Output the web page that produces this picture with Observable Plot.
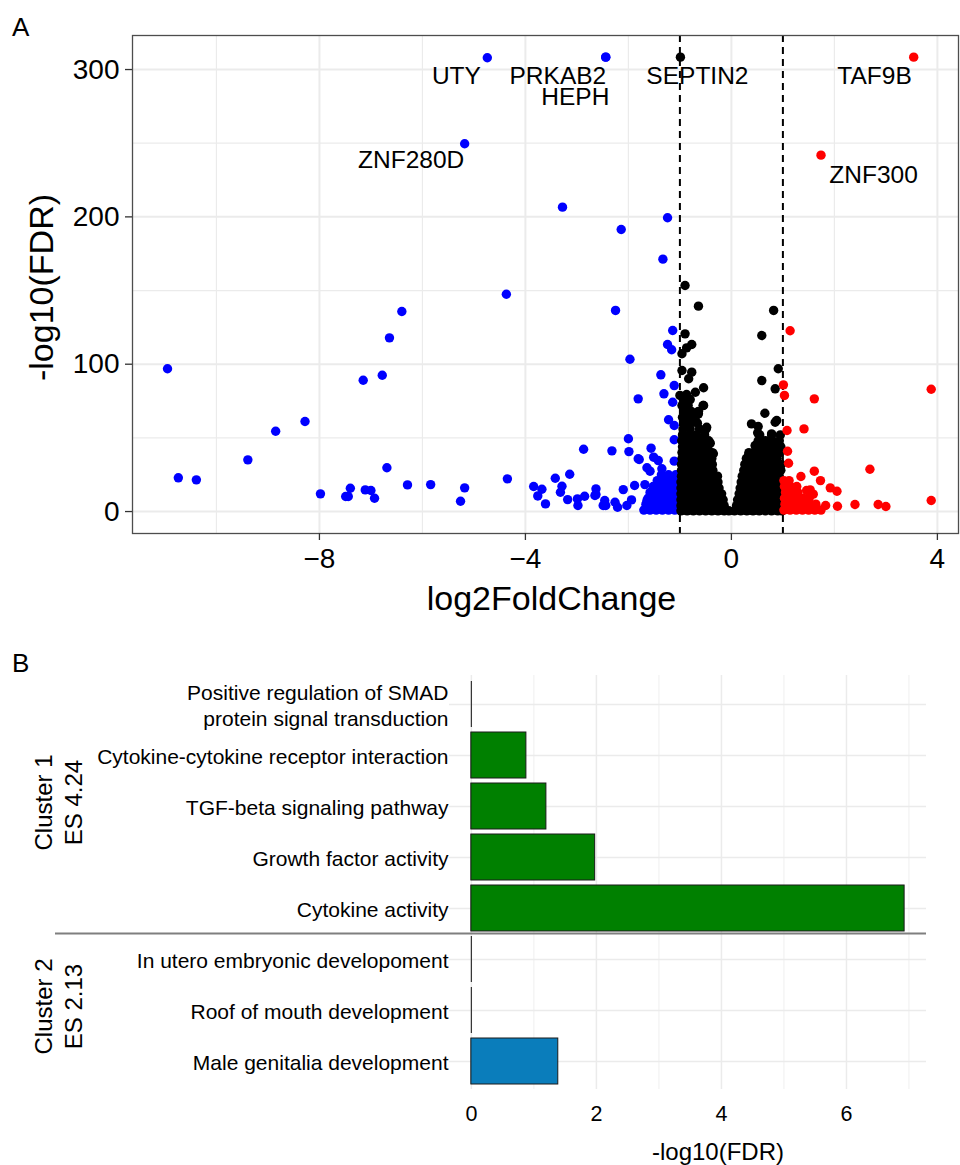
<!DOCTYPE html>
<html><head><meta charset="utf-8">
<script src="https://cdn.jsdelivr.net/npm/d3@7"></script>
<script src="https://cdn.jsdelivr.net/npm/@observablehq/plot@0.6"></script>
<style>
body{margin:0;background:#fff;font-family:"Liberation Sans",Arial,sans-serif;}
#wrap{position:relative;width:960px;height:1165px;overflow:hidden;background:#fff;}
.plab{position:absolute;font-size:26px;line-height:1;color:#000;}
#a{position:absolute;left:0;top:0}
#b{position:absolute;left:0;top:640px}
</style></head><body>
<div id="wrap">
<div id="a"></div><div id="b"></div>
<div class="plab" style="left:12px;top:14px">A</div>
<div class="plab" style="left:12px;top:650px">B</div>
</div>
<script>
// ---------- Panel A data ----------
const xMajor = [-8, -4, 0, 4];
const xMinor = [-10, -6, -2, 2];
const yMajor = [0, 100, 200, 300];
const yMinor = [50, 150, 250];
const cutoffs = [-1, 1];

// down-regulated (blue), scattered points [log2FC, -log10 FDR]
const downPoints = [
  [-4.74,308.0],[-2.44,308.4],[-2.44,308.4],[-5.18,249.6],[-3.28,206.6],[-1.24,199.4],
  [-2.14,191.4],[-1.33,171.3],[-4.37,147.5],[-2.25,136.5],[-6.40,135.8],[-1.14,122.9],
  [-6.64,117.9],[-1.24,113.4],[-1.16,109.8],[-1.97,103.4],[-10.95,96.9],[-1.37,92.8],
  [-6.78,92.5],[-7.15,89.1],[-1.11,85.5],[-1.31,79.9],[-1.81,76.5],[-1.14,74.2],
  [-1.22,62.3],[-8.28,61.1],[-1.11,58.4],[-8.85,54.5],[-2.0,49.4],[-1.11,48.7],
  [-1.56,43.0],[-2.87,42.3],[-2.32,41.2],[-1.99,40.7],[-9.39,35.1],[-1.79,35.3],
  [-1.51,36.9],[-1.42,34.6],[-1.11,34.2],[-6.69,29.7],[-1.64,29.7],[-1.58,27.4],
  [-1.35,29.0],[-3.14,25.3],[-10.74,22.9],[-3.42,22.6],[-4.35,22.2],[-10.39,21.5],
  [-6.29,18.1],[-5.84,18.3],[-1.88,17.7],[-3.84,17.0],[-3.29,17.2],[-5.18,16.1],
  [-7.40,15.8],[-2.63,15.4],[-3.68,15.1],[-2.10,14.9],[-7.11,14.7],[-7.0,14.3],
  [-3.32,13.1],[-7.98,12.0],[-2.65,10.9],[-3.76,10.6],[-2.85,10.4],[-7.49,10.2],
  [-7.44,10.2],[-6.93,9.0],[-2.99,8.6],[-3.18,8.1],[-1.94,7.9],[-2.46,7.5],
  [-5.26,7.0],[-2.26,6.3],[-3.61,5.2],[-2.98,4.1],[-2.44,4.1],[-2.03,4.1],
  [-2.21,2.9],[-1.68,18.3],[-1.64,7.5],[-1.81,35.8],[-2.63,11.5],[-2.49,4.1]
];
// dense blue cluster, rows: [-log10 FDR, log2FC values]
const downDense = [
  [1, [-1.70,-1.58,-1.46,-1.34,-1.22,-1.10]],
  [5, [-1.66,-1.54,-1.42,-1.30,-1.18,-1.06]],
  [9, [-1.62,-1.50,-1.38,-1.26,-1.14,-1.04]],
  [13,[-1.58,-1.46,-1.34,-1.22,-1.10]],
  [17,[-1.52,-1.40,-1.28,-1.16,-1.05]],
  [21,[-1.44,-1.30,-1.18,-1.06]],
  [25,[-1.36,-1.22,-1.08]]
];

// up-regulated (red)
const upPoints = [
  [3.54,308.4],[1.74,241.9],[1.14,122.7],[1.01,86.0],[1.03,78.8],[1.61,76.5],
  [3.88,83.0],[1.08,55.0],[1.41,56.1],[1.09,40.9],[1.11,32.8],[2.69,28.7],
  [1.61,27.4],[1.35,23.8],[1.73,21.0],[1.92,16.1],[2.05,13.8],[1.53,14.7],
  [1.59,11.8],[1.46,14.3],[2.06,3.6],[2.40,4.8],[2.85,4.8],[3.0,3.4],
  [3.88,7.5],[1.83,4.1]
];
const upDense = [
  [1, [1.02,1.14,1.26,1.38,1.50,1.62,1.74]],
  [5, [1.04,1.16,1.28,1.40,1.52,1.64]],
  [9, [1.03,1.15,1.27,1.39,1.51]],
  [13,[1.05,1.17,1.29]],
  [17,[1.03,1.15,1.27]],
  [21,[1.02,1.12]]
];

// not significant (black)
const nsPoints = [
  [-0.99,308.4],[-0.90,153.4],[-0.64,139.4],[-0.90,120.6],[-0.77,113.4],[-0.87,111.1],
  [-0.96,107.1],[-0.96,95.7],[-0.77,94.6],[-0.83,90.1],[-0.54,84.0],[-0.70,81.0],
  [-0.87,79.4],[-1.0,78.8],[-0.54,72.0],[-0.64,66.3],[-0.77,61.8],[-0.90,59.5],
  [-0.48,57.2],[-0.96,48.2],[-0.74,47.0],[-0.54,49.4],[-0.41,46.4],[-0.35,39.2],
  [0.82,136.5],[0.59,119.5],[0.91,96.9],[0.59,88.9],[0.85,83.3],[0.65,66.7],
  [0.88,61.8],[0.85,60.6],[0.39,59.5],[0.52,57.7],[0.78,52.7],[0.51,53.4],
  [0.46,44.8],[0.59,43.7],[0.75,44.1],[0.33,38.0]
];
const nsDense = [
  [0.5,[-0.98,-0.86,-0.74,-0.62,-0.50,-0.38,-0.26,-0.14,-0.05,0.06,0.18,0.30,0.42,0.54,0.66,0.78,0.90,0.98]],
  [4, [-0.98,-0.86,-0.74,-0.62,-0.50,-0.38,-0.26,-0.14,0.10,0.22,0.34,0.46,0.58,0.70,0.82,0.94]],
  [8, [-0.98,-0.86,-0.74,-0.62,-0.50,-0.38,-0.26,-0.16,0.12,0.24,0.36,0.48,0.60,0.72,0.84,0.96]],
  [12,[-0.98,-0.86,-0.74,-0.62,-0.50,-0.38,-0.27,-0.19,0.15,0.27,0.39,0.51,0.63,0.75,0.87,0.97]],
  [16,[-0.98,-0.86,-0.74,-0.62,-0.50,-0.38,-0.24,0.17,0.29,0.41,0.53,0.65,0.77,0.89,0.97]],
  [20,[-0.98,-0.86,-0.74,-0.62,-0.50,-0.38,-0.26,0.19,0.31,0.43,0.55,0.67,0.79,0.91]],
  [24,[-0.97,-0.85,-0.73,-0.61,-0.49,-0.37,-0.27,0.21,0.33,0.45,0.57,0.69,0.81,0.93]],
  [28,[-0.97,-0.85,-0.73,-0.61,-0.49,-0.36,0.24,0.36,0.48,0.60,0.72,0.84,0.96]],
  [32,[-0.97,-0.85,-0.73,-0.61,-0.49,-0.37,0.26,0.38,0.50,0.62,0.74,0.86,0.97]],
  [36,[-0.96,-0.84,-0.72,-0.60,-0.48,-0.38,0.29,0.41,0.53,0.65,0.77,0.89]],
  [40,[-0.96,-0.84,-0.72,-0.60,-0.48,-0.37,0.34,0.46,0.58,0.70,0.82,0.94]],
  [44,[-0.95,-0.83,-0.71,-0.59,-0.46,0.47,0.60,0.72,0.85,0.96]],
  [48,[-0.96,-0.84,-0.72,-0.58,-0.44,0.52,0.66,0.80,0.93]],
  [52,[-0.95,-0.82,-0.68,-0.52,0.55,0.78,0.95]],
  [56,[-0.94,-0.80,-0.62,-0.49]],
  [60,[-0.92,-0.80,-0.66]],
  [64,[-0.95,-0.84,-0.70]],
  [68,[-0.92,-0.78,-0.64]],
  [72,[-0.96,-0.84,-0.55]],
  [76,[-0.93,-0.80]]
];

const geneNames = ["UTY","PRKAB2","HEPH","SEPTIN2","TAF9B","ZNF280D","ZNF300"];
const geneLabelX = [-5.34,-3.37,-3.03,-0.66,2.78,-6.22,2.76];
const geneLabelY = [295.3,295.3,281.0,295.3,295.3,238.2,228.0];

// ---------- Panel B data ----------
const terms = [
  "Positive regulation of SMAD\nprotein signal transduction",
  "Cytokine-cytokine receptor interaction",
  "TGF-beta signaling pathway",
  "Growth factor activity",
  "Cytokine activity",
  "In utero embryonic developoment",
  "Roof of mouth development",
  "Male genitalia development"
];
const fdrValues = [0, 0.88, 1.2, 1.98, 6.93, 0, 0, 1.39];
const clusterOf = [1, 1, 1, 1, 1, 2, 2, 2];
const clusterNames = ["Cluster 1\nES 4.24", "Cluster 2\nES 2.13"];
const clusterCenterTerm = [terms[2], terms[6]];
const barMajor = [0, 2, 4, 6];
const barMinor = [1, 3, 5, 7];

// ---------- build tables ----------
const toRows = (pts) => pts.map(([x, y]) => ({x, y}));
const fromDense = (rows) => rows.flatMap(([y, xs]) => xs.map(x => ({x, y})));
const down = toRows(downPoints).concat(fromDense(downDense));
const up = toRows(upPoints).concat(fromDense(upDense));
const ns = toRows(nsPoints).concat(fromDense(nsDense));
const genes = geneNames.map((g, i) => ({g, x: geneLabelX[i], y: geneLabelY[i]}));

const FONT = '"Liberation Sans", Arial, Helvetica, sans-serif';
const R = 4.7;

const plotA = Plot.plot({
  width: 960, height: 625,
  marginLeft: 132, marginRight: 2, marginTop: 35, marginBottom: 92,
  style: {fontFamily: FONT, background: "#fff", color: "#000", overflow: "visible"},
  x: {domain: [-11.63, 4.41]},
  y: {domain: [-14.9, 323.1]},
  marks: [
    Plot.gridX(xMinor, {stroke: "#ebebeb", strokeOpacity: 1, strokeWidth: 1.2}),
    Plot.gridY(yMinor, {stroke: "#ebebeb", strokeOpacity: 1, strokeWidth: 1.2}),
    Plot.gridX(xMajor, {stroke: "#ebebeb", strokeOpacity: 1, strokeWidth: 2}),
    Plot.gridY(yMajor, {stroke: "#ebebeb", strokeOpacity: 1, strokeWidth: 2}),
    Plot.ruleX(cutoffs, {stroke: "#000", strokeWidth: 2, strokeDasharray: "7,5"}),
    Plot.dot(down, {x: "x", y: "y", r: R, fill: "#0000ff"}),
    Plot.dot(ns, {x: "x", y: "y", r: R, fill: "#000000"}),
    Plot.dot(up, {x: "x", y: "y", r: R, fill: "#ff0000"}),
    Plot.text(genes, {x: "x", y: "y", text: "g", fontSize: 24.5, fill: "#000", lineAnchor: "middle"}),
    Plot.frame({stroke: "#4d4d4d", strokeWidth: 1.3}),
    Plot.axisX(xMajor, {tickSize: 7, tickPadding: 8, fontSize: 28, stroke: "#333", strokeWidth: 1.3, fill: "#000", label: null}),
    Plot.axisY(yMajor, {tickSize: 7, tickPadding: 6, fontSize: 28, stroke: "#333", strokeWidth: 1.3, fill: "#000", label: null}),
    Plot.text(["log2FoldChange"], {frameAnchor: "bottom", dy: 52, dx: 6, lineAnchor: "top", textAnchor: "middle", fontSize: 34, fill: "#000"}),
    Plot.text(["-log10(FDR)"], {frameAnchor: "left", dx: -90, dy: 3, rotate: -90, textAnchor: "middle", lineAnchor: "middle", fontSize: 34, fill: "#000"})
  ]
});
document.getElementById("a").appendChild(plotA);

const barRows = terms.map((t, i) => ({term: t, v: fdrValues[i], cluster: clusterOf[i]}));
const clusterRows = clusterNames.map((n, i) => ({name: n, term: clusterCenterTerm[i]}));

const plotB = Plot.plot({
  width: 960, height: 525,
  marginLeft: 449, marginRight: 34, marginTop: 35, marginBottom: 76,
  style: {fontFamily: FONT, background: "#fff", color: "#000", overflow: "visible"},
  x: {domain: [-0.35, 7.28]},
  y: {domain: terms, paddingInner: 0.1, paddingOuter: 0.05},
  marks: [
    Plot.gridX(barMinor, {stroke: "#ededed", strokeOpacity: 1, strokeWidth: 0.9}),
    Plot.gridX(barMajor, {stroke: "#ebebeb", strokeOpacity: 1, strokeWidth: 1.5}),
    Plot.gridY(terms, {stroke: "#ebebeb", strokeOpacity: 1, strokeWidth: 1.5}),
    Plot.tickX(barRows, {x: () => 0, y: "term", stroke: "#333", strokeWidth: 1.2}),
    Plot.barX(barRows, {filter: d => d.cluster === 1, x: "v", y: "term", fill: "#008000", stroke: "#1a1a1a", strokeWidth: 1}),
    Plot.barX(barRows, {filter: d => d.cluster === 2, x: "v", y: "term", fill: "#0a7dbb", stroke: "#1a1a1a", strokeWidth: 1}),
    Plot.axisY({tickSize: 0, tickPadding: 1, fontSize: 21, lineHeight: 1.24, fill: "#000", label: null}),
    Plot.axisX(barMajor, {tickSize: 0, tickPadding: 16, fontSize: 21.5, fill: "#000", label: null}),
    Plot.text(["-log10(FDR)"], {frameAnchor: "bottom", dy: 53, dx: 30, lineAnchor: "top", textAnchor: "middle", fontSize: 24, fill: "#000"}),
    Plot.text(clusterRows, {y: "term", text: "name", frameAnchor: "left", dx: -392, dy: -4, rotate: -90, textAnchor: "middle", lineAnchor: "middle", lineHeight: 1.25, fontSize: 24, fill: "#000"})
  ]
});
document.getElementById("b").appendChild(plotB);

// separator between the two clusters, placed from the band scale
const sy = plotB.scale("y");
const yBoundary = (sy.apply(terms[4]) + sy.bandwidth + sy.apply(terms[5])) / 2;
d3.select(plotB).append("line")
  .attr("x1", 55).attr("x2", 960 - 34)
  .attr("y1", yBoundary).attr("y2", yBoundary)
  .attr("stroke", "#7f7f7f").attr("stroke-width", 2);
</script>
</body></html>
